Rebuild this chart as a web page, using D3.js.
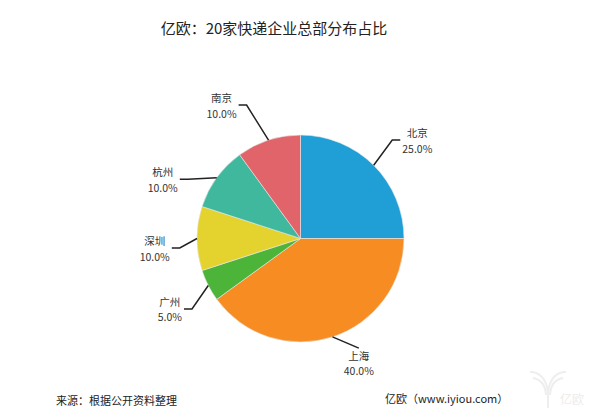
<!DOCTYPE html>
<html><head><meta charset="utf-8">
<script src="https://cdn.jsdelivr.net/npm/d3@7/dist/d3.min.js"></script>
<style>
html,body{margin:0;padding:0;background:#fff;}
svg{display:block;font-family:"Noto Sans CJK SC","Microsoft YaHei",sans-serif;}
</style></head>
<body><svg id="c" width="600" height="418"></svg>
<script>
const categories = ["北京", "上海", "广州", "深圳", "杭州", "南京"];
const values = [25.0, 40.0, 5.0, 10.0, 10.0, 10.0];
const colors = ["#1f9fd5", "#f68c22", "#4db43a", "#e4d22e", "#3fb89d", "#e06469"];
// label leader-line styling: angular shift (deg) of the elbow, and elbow radius factor
const elbowShift = [-2, -10, -6, -4.5, -8.3, -4];
const elbowRadius = [1.30, 1.20, 1.25, 1.17, 1.23, 1.39];
const title = "亿欧：20家快递企业总部分布占比";
const source = "来源：根据公开资料整理";
const credit = "亿欧（www.iyiou.com）";

const svg = d3.select("#c");
const cx = 300.5, cy = 238.5, r = 103.5;

svg.append("text").attr("x", 274).attr("y", 27).attr("text-anchor", "middle")
  .attr("dominant-baseline", "central").attr("font-size", 15).attr("fill", "#222").text(title);

const pie = d3.pie().sort(null).value(d => d)(values);
const arc = d3.arc().innerRadius(0).outerRadius(r);
const g = svg.append("g").attr("transform", `translate(${cx},${cy})`);
g.selectAll("path.slice").data(pie).join("path").attr("class", "slice")
  .attr("d", arc).attr("fill", (d, i) => colors[i])
  .attr("stroke", "#e8e8e8").attr("stroke-width", 0.6);

const polar = (a, rad) => [rad * Math.sin(a), -rad * Math.cos(a)];
pie.forEach((d, i) => {
  const mid = (d.startAngle + d.endAngle) / 2;
  const p0 = polar(mid, r);
  const ka = mid + elbowShift[i] * Math.PI / 180;
  const p1 = polar(ka, r * elbowRadius[i]);
  const right = Math.sin(mid) >= 0;
  const below = i === 1;
  const lines = [categories[i], values[i].toFixed(1) + "%"];
  const lg = g.append("g");
  const ts = lines.map((s, k) => lg.append("text").attr("font-size", 10.5).attr("fill", "#333")
    .attr("text-anchor", "middle").attr("dominant-baseline", "central")
    .attr("y", k === 0 ? -7.5 : 8).text(s));
  const w = Math.max(...ts.map(t => t.node().getComputedTextLength()));
  let pts, tx, ty;
  if (below) {
    pts = [p0, p1];
    tx = p1[0]; ty = p1[1] + 14.5;
  } else {
    const p2 = [p1[0] + (right ? 8 : -8), p1[1]];
    pts = [p0, p1, p2];
    tx = p2[0] + (right ? 2 + w / 2 : -2 - w / 2); ty = p1[1];
  }
  lg.attr("transform", `translate(${tx},${ty})`);
  g.append("path").attr("d", d3.line()(pts)).attr("fill", "none")
    .attr("stroke", "#222").attr("stroke-width", 1.5);
});

svg.append("text").attr("x", 56).attr("y", 400).attr("dominant-baseline", "central")
  .attr("font-size", 11).attr("fill", "#222").text(source);
svg.append("text").attr("x", 385).attr("y", 398).attr("dominant-baseline", "central")
  .attr("font-size", 11).attr("fill", "#222").text(credit);

// faint watermark
const wm = svg.append("g").attr("fill", "none").attr("stroke", "#eeeeee").attr("stroke-width", 2);
wm.append("path").attr("d", "M530,372 Q545,372 548,392 L548,408 M566,372 Q551,372 548,392 M533,378 Q545,380 546,395 M563,378 Q551,380 550,395");
svg.append("text").attr("x", 560).attr("y", 404).attr("font-size", 12).attr("fill", "#ececec").text("亿欧");
</script></body></html>
